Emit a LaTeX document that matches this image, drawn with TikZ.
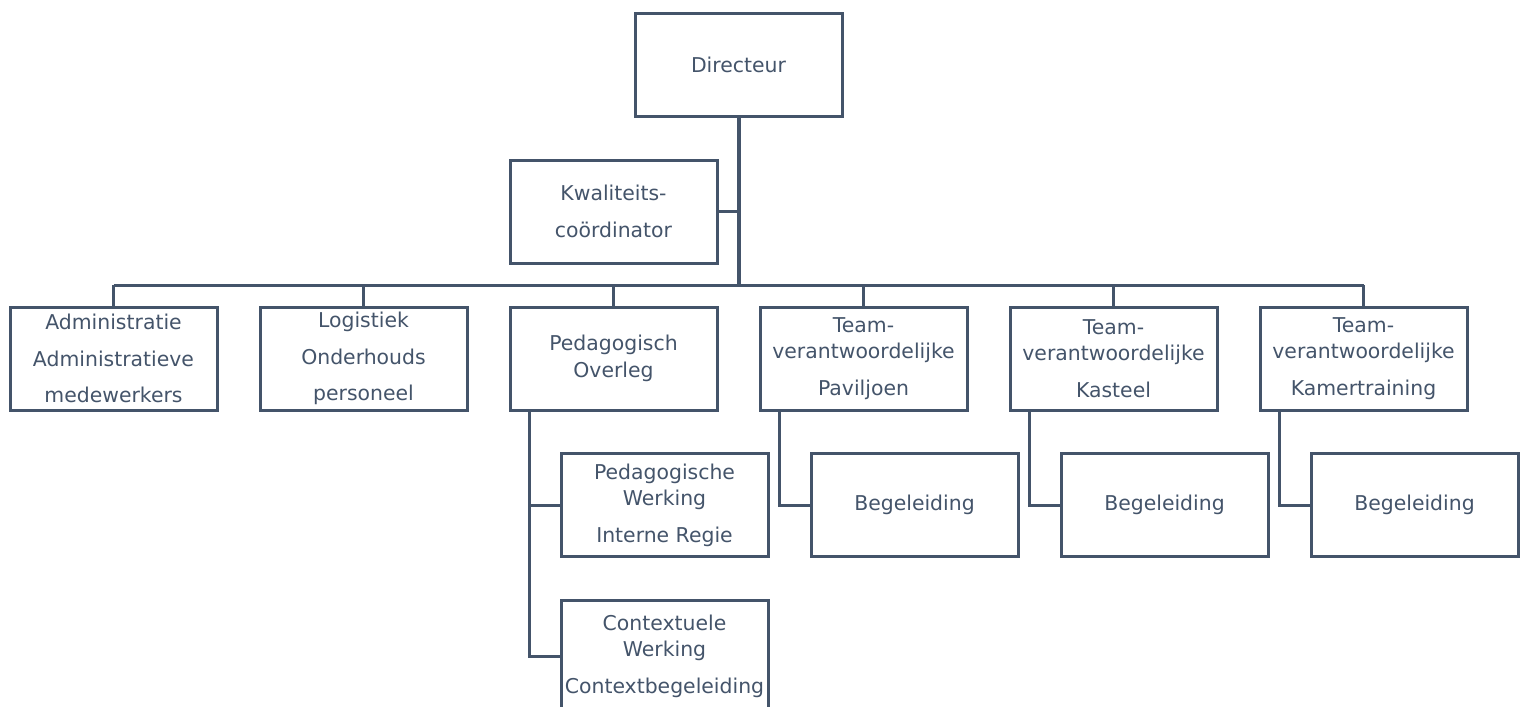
\documentclass[tikz,border=0pt]{standalone}
\usepackage{fontspec}
\setmainfont{DejaVu Sans}
\usetikzlibrary{positioning}
\definecolor{slate}{HTML}{44546A}

\begin{document}
\begin{tikzpicture}[x=0.5pt,y=-0.5pt,node distance=125pt,on grid,
        orgbox/.style={draw=slate,line width=1.5pt,text=slate,minimum width=103.5pt,minimum height=51.5pt,
            inner xsep=1pt,inner ysep=1pt,align=center,font=\fontsize{10.2pt}{13.25pt}\selectfont},
        link/.style={draw=slate,line width=1.5pt}]
    \useasboundingbox (0,0) rectangle (1523,707);

    \node[orgbox] (dir) at (738.5,65) {Directeur};
    \node[orgbox] (kwal) at (613.5,211.5) {Kwaliteits-\\[5pt]coördinator};

    \node[orgbox] (adm) at (113.5,358.5) {Administratie\\[5pt]Administratieve\\[5pt]medewerkers};
    \node[orgbox] (log) [right=of adm] {Logistiek\\[5pt]Onderhouds\\[5pt]personeel};
    \node[orgbox] (ped) [right=of log] {Pedagogisch\\Overleg};
    \node[orgbox] (tpav) [right=of ped] {Team-\\verantwoordelijke\\[5pt]Paviljoen};
    \node[orgbox] (tkas) [right=of tpav] {Team-\\verantwoordelijke\\[5pt]Kasteel};
    \node[orgbox] (tkam) [right=of tkas] {Team-\\verantwoordelijke\\[5pt]Kamertraining};

    \node[orgbox] (pedw) [below right=73.25pt and 25.5pt of ped] {Pedagogische\\Werking\\[5pt]Interne Regie};
    \node[orgbox,minimum height=56pt] (ctxw) at (664.5,656) {Contextuele\\Werking\\[5pt]Contextbegeleiding};
    \node[orgbox] (bpav) [below right=73.25pt and 25.5pt of tpav] {Begeleiding};
    \node[orgbox] (bkas) [below right=73.25pt and 25.5pt of tkas] {Begeleiding};
    \node[orgbox] (bkam) [below right=73.25pt and 25.5pt of tkam] {Begeleiding};

    % top of the chart
    \coordinate (bus) at (738.5,285);
    \draw[link,line width=2pt] (dir) -- (bus);
    \draw[link] (kwal.east) -- (kwal.east -| dir.south);
    \draw[link] (adm.north |- bus) -- (tkam.north |- bus);
    \foreach \n in {adm,log,ped,tpav,tkas,tkam}
        \draw[link] (\n.north) -- (\n.north |- bus);

    % sub levels
    \draw[link] ([xshift=10.5pt]ped.south west) |- (pedw.west);
    \draw[link] ([xshift=10.5pt]ped.south west) |- (ctxw.west);
    \foreach \t/\b in {tpav/bpav,tkas/bkas,tkam/bkam}
        \draw[link] ([xshift=10.5pt]\t.south west) |- (\b.west);
\end{tikzpicture}
\end{document}
